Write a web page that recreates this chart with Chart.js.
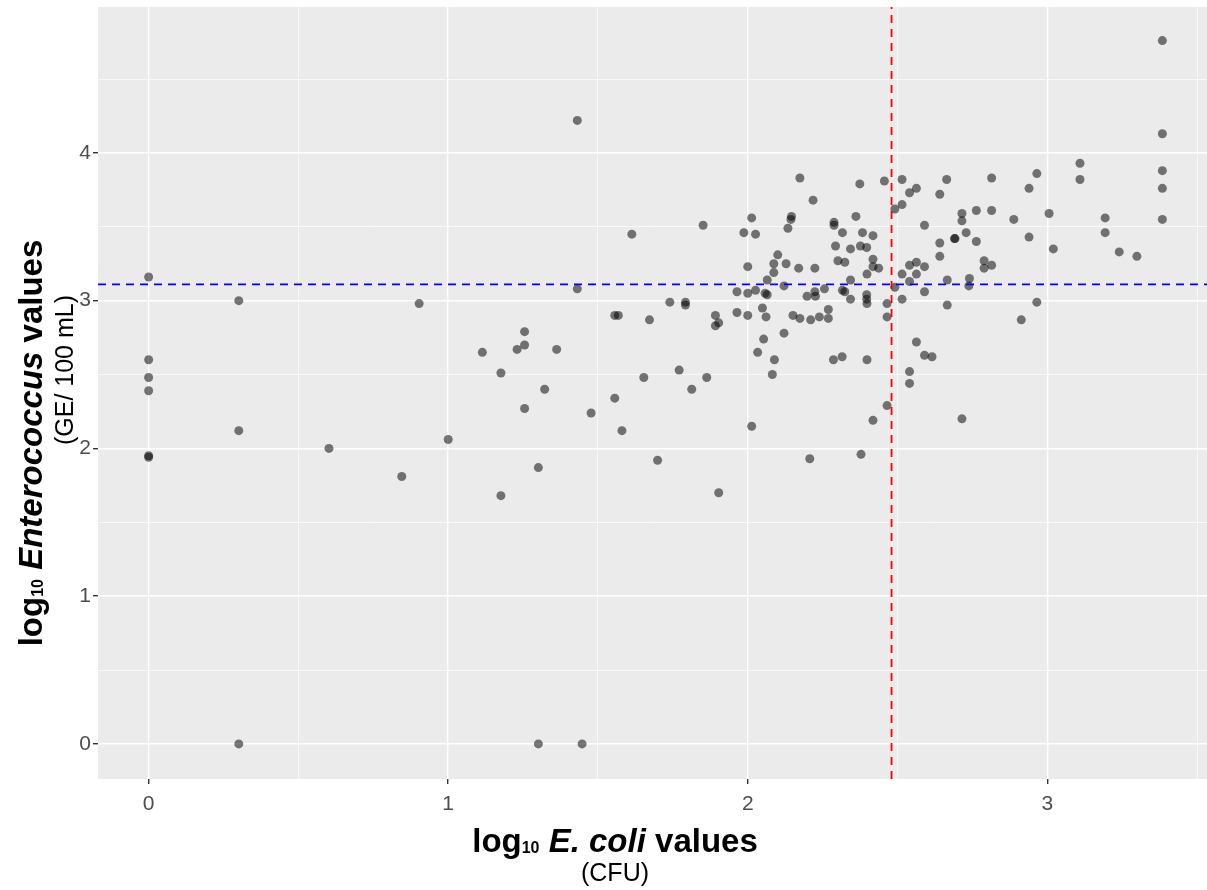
<!DOCTYPE html>
<html>
<head>
<meta charset="utf-8">
<script src="https://cdn.jsdelivr.net/npm/chart.js@4.4.1/dist/chart.umd.min.js"></script>
<style>
  html, body { margin: 0; padding: 0; background: #fff; }
</style>
</head>
<body>
<canvas id="chart" width="1207" height="890"></canvas>
<script>
// log10 E. coli (CFU) per sample
const ecoliLog = [
  0, 0, 0, 0, 0, 0,
  0.301, 0.301, 0.301, 0.602, 0.845, 0.903, 1.0, 1.114,
  1.176, 1.176, 1.230, 1.255, 1.255, 1.255, 1.301, 1.301, 1.322, 1.362,
  1.431, 1.431, 1.447, 1.477, 1.556, 1.556, 1.568, 1.580, 1.613, 1.653,
  1.672, 1.699, 1.740, 1.771, 1.792, 1.792, 1.813, 1.851, 1.863, 1.892,
  1.892, 1.903, 1.903, 1.964, 1.964, 1.987, 2.0, 2.0, 2.0, 2.013,
  2.013, 2.026, 2.026, 2.033, 2.049, 2.053, 2.061, 2.058, 2.065, 2.065,
  2.082, 2.089, 2.087, 2.087, 2.100, 2.121, 2.121, 2.128, 2.134, 2.144,
  2.146, 2.151, 2.170, 2.174, 2.174, 2.198, 2.207, 2.210, 2.218, 2.224,
  2.224, 2.226, 2.239, 2.256, 2.269, 2.269, 2.286, 2.288, 2.288, 2.293,
  2.301, 2.315, 2.316, 2.316, 2.324, 2.324, 2.343, 2.343, 2.343, 2.361,
  2.374, 2.376, 2.378, 2.383, 2.397, 2.397, 2.397, 2.398, 2.398, 2.398,
  2.418, 2.418, 2.418, 2.418, 2.437, 2.456, 2.465, 2.465, 2.465, 2.491,
  2.491, 2.515, 2.515, 2.515, 2.515, 2.540, 2.540, 2.540, 2.540, 2.540,
  2.563, 2.563, 2.563, 2.563, 2.590, 2.590, 2.590, 2.590, 2.615, 2.641,
  2.641, 2.641, 2.664, 2.666, 2.666, 2.690, 2.692, 2.715, 2.715, 2.715,
  2.729, 2.740, 2.738, 2.763, 2.763, 2.789, 2.789, 2.814, 2.814, 2.814,
  2.888, 2.913, 2.939, 2.939, 2.965, 2.965, 3.006, 3.020, 3.109, 3.109,
  3.193, 3.193, 3.240, 3.299, 3.384, 3.384, 3.384, 3.384, 3.384
];

// log10 Enterococcus (GE / 100 mL), same order as ecoliLog
const enteroLog = [
  3.16, 2.60, 2.48, 2.39, 1.95, 1.94,
  3.00, 2.12, 0, 2.00, 1.81, 2.98, 2.06, 2.65,
  2.51, 1.68, 2.67, 2.79, 2.70, 2.27, 1.87, 0, 2.40, 2.67,
  4.22, 3.08, 0, 2.24, 2.34, 2.90, 2.90, 2.12, 3.45, 2.48,
  2.87, 1.92, 2.99, 2.53, 2.99, 2.97, 2.40, 3.51, 2.48, 2.90,
  2.83, 2.85, 1.70, 2.92, 3.06, 3.46, 3.23, 3.05, 2.90, 3.56,
  2.15, 3.45, 3.07, 2.65, 2.95, 2.74, 2.89, 3.05, 3.04, 3.14,
  2.50, 2.60, 3.25, 3.19, 3.31, 3.10, 2.78, 3.25, 3.49, 3.55,
  3.57, 2.90, 3.22, 3.83, 2.88, 3.03, 1.93, 2.87, 3.68, 3.22,
  3.06, 3.03, 2.89, 3.08, 2.94, 2.88, 2.60, 3.53, 3.51, 3.37,
  3.27, 2.62, 3.46, 3.07, 3.26, 3.06, 3.35, 3.14, 3.01, 3.57,
  3.79, 3.37, 1.96, 3.46, 3.36, 3.04, 3.01, 3.18, 2.98, 2.60,
  3.44, 3.28, 3.23, 2.19, 3.22, 3.81, 2.98, 2.89, 2.29, 3.62,
  3.09, 3.82, 3.65, 3.18, 3.01, 3.73, 3.24, 3.13, 2.52, 2.44,
  3.76, 3.26, 3.18, 2.72, 3.51, 3.23, 3.06, 2.63, 2.62, 3.72,
  3.39, 3.30, 3.82, 3.14, 2.97, 3.42, 3.42, 3.59, 3.54, 2.20,
  3.46, 3.15, 3.10, 3.61, 3.40, 3.27, 3.22, 3.83, 3.61, 3.24,
  3.55, 2.87, 3.76, 3.43, 3.86, 2.99, 3.59, 3.35, 3.93, 3.82,
  3.56, 3.46, 3.33, 3.30, 4.76, 4.13, 3.88, 3.76, 3.55
];

// dashed reference lines
const ecoliThreshold = 2.48;
const enteroThreshold = 3.11;

const xTickValues = [0, 0.5, 1, 1.5, 2, 2.5, 3, 3.5];
const yTickValues = [0, 0.5, 1, 1.5, 2, 2.5, 3, 3.5, 4, 4.5];

const isMajor = (v) => Math.abs(v - Math.round(v)) < 1e-9;

const points = ecoliLog.map((x, i) => ({ x: x, y: enteroLog[i] }));

const BASE_FONT = '"Liberation Sans", Arial, Helvetica, sans-serif';

// draw a run of text pieces with different fonts, centred on (cx, baseline)
function drawRuns(ctx, runs, cx, baseline) {
  let total = 0;
  runs.forEach(r => {
    ctx.font = r.font;
    r.w = ctx.measureText(r.text).width;
    total += r.w;
  });
  let x = cx - total / 2;
  runs.forEach(r => {
    ctx.font = r.font;
    ctx.fillText(r.text, x, baseline + (r.dy || 0));
    x += r.w;
  });
}

const refLinesPlugin = {
  id: 'refLines',
  afterDatasetsDraw(chart) {
    const { ctx, chartArea, scales } = chart;
    const px = scales.x.getPixelForValue(ecoliThreshold);
    const py = scales.y.getPixelForValue(enteroThreshold);
    ctx.save();
    ctx.lineWidth = 1.8;
    ctx.setLineDash([8, 6]);
    ctx.strokeStyle = '#0000FF';
    ctx.beginPath();
    ctx.moveTo(chartArea.left, py);
    ctx.lineTo(chartArea.right, py);
    ctx.stroke();
    ctx.strokeStyle = '#FF0000';
    ctx.beginPath();
    ctx.moveTo(px, chartArea.bottom);
    ctx.lineTo(px, chartArea.top);
    ctx.stroke();
    ctx.restore();
  }
};

const axisTitlesPlugin = {
  id: 'axisTitles',
  afterDraw(chart) {
    const { ctx } = chart;
    ctx.save();
    ctx.fillStyle = '#000';
    ctx.textBaseline = 'alphabetic';
    ctx.textAlign = 'left';

    // x axis
    drawRuns(ctx, [
      { text: 'log', font: 'bold 33px ' + BASE_FONT },
      { text: '10', font: 'bold 16px ' + BASE_FONT, dy: 1 },
      { text: ' E. coli', font: 'italic bold 33px ' + BASE_FONT },
      { text: ' values', font: 'bold 33px ' + BASE_FONT }
    ], 615, 852);
    drawRuns(ctx, [
      { text: '(CFU)', font: '25px ' + BASE_FONT }
    ], 615, 881);

    // y axis
    ctx.save();
    ctx.translate(42, 443);
    ctx.rotate(-Math.PI / 2);
    drawRuns(ctx, [
      { text: 'log', font: 'bold 33px ' + BASE_FONT },
      { text: '10', font: 'bold 16px ' + BASE_FONT, dy: 1 },
      { text: ' Enterococcus', font: 'italic bold 33px ' + BASE_FONT },
      { text: ' values', font: 'bold 33px ' + BASE_FONT }
    ], 0, 0);
    ctx.restore();

    ctx.save();
    ctx.translate(73, 370);
    ctx.rotate(-Math.PI / 2);
    drawRuns(ctx, [
      { text: '(GE/ 100 mL)', font: '25px ' + BASE_FONT }
    ], 0, 0);
    ctx.restore();

    ctx.restore();
  }
};

const panelPlugin = {
  id: 'panelBg',
  beforeDraw(chart) {
    const { ctx, chartArea } = chart;
    ctx.save();
    ctx.fillStyle = '#FFFFFF';
    ctx.fillRect(0, 0, chart.width, chart.height);
    ctx.fillStyle = '#EBEBEB';
    ctx.fillRect(chartArea.left, chartArea.top,
      chartArea.right - chartArea.left, chartArea.bottom - chartArea.top);
    ctx.restore();
  }
};

const gridOptions = {
  color: '#FFFFFF',
  lineWidth: (c) => (c.tick && isMajor(c.tick.value)) ? 1.4 : 0.7,
  tickColor: (c) => (c.tick && isMajor(c.tick.value)) ? '#333333' : 'rgba(0,0,0,0)',
  tickLength: 5,
  drawTicks: true
};

const tickFont = { family: BASE_FONT, size: 21 };

new Chart(document.getElementById('chart'), {
  type: 'scatter',
  data: {
    datasets: [{
      data: points,
      backgroundColor: 'rgba(0,0,0,0.52)',
      borderWidth: 0,
      pointRadius: 4.5,
      pointHoverRadius: 4.5
    }]
  },
  options: {
    responsive: false,
    animation: false,
    events: [],
    layout: { autoPadding: false, padding: { top: 7, right: 0, left: 0, bottom: 0 } },
    plugins: {
      legend: { display: false },
      tooltip: { enabled: false }
    },
    scales: {
      x: {
        type: 'linear',
        min: -0.169,
        max: 3.533,
        afterBuildTicks: (scale) => { scale.ticks = xTickValues.map(v => ({ value: v })); },
        afterFit: (scale) => {
          scale.height = 111;
          scale.paddingLeft = 0;
          scale.paddingRight = 0;
        },
        grid: gridOptions,
        border: { display: false },
        ticks: {
          autoSkip: false,
          maxRotation: 0,
          padding: 8,
          color: '#4D4D4D',
          font: tickFont,
          callback: (v) => isMajor(v) ? String(Math.round(v)) : ''
        }
      },
      y: {
        type: 'linear',
        min: -0.2375,
        max: 4.9875,
        afterBuildTicks: (scale) => { scale.ticks = yTickValues.map(v => ({ value: v })); },
        afterFit: (scale) => {
          scale.width = 98;
          scale.paddingTop = 0;
          scale.paddingBottom = 0;
        },
        grid: gridOptions,
        border: { display: false },
        ticks: {
          autoSkip: false,
          padding: 2,
          color: '#4D4D4D',
          font: tickFont,
          callback: (v) => isMajor(v) ? String(Math.round(v)) : ''
        }
      }
    }
  },
  plugins: [panelPlugin, refLinesPlugin, axisTitlesPlugin]
});
</script>
</body>
</html>
